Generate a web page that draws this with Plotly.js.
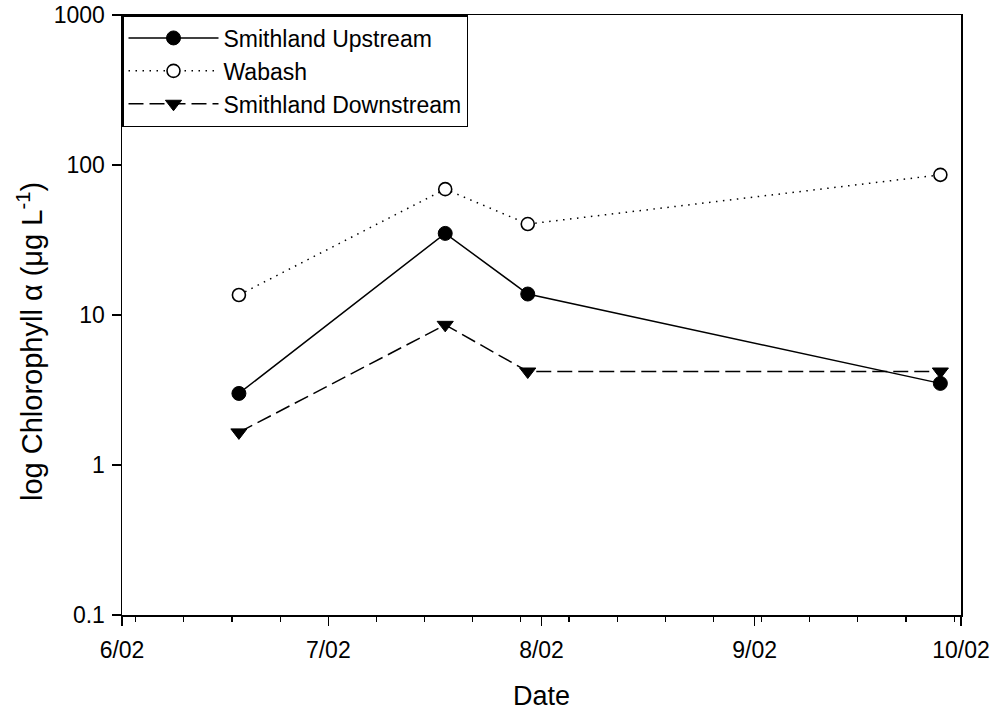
<!DOCTYPE html>
<html><head><meta charset="utf-8">
<script src="https://cdn.plot.ly/plotly-3.0.1.min.js"></script>
<style>html,body{margin:0;padding:0;background:#fff}</style>
</head><body>
<div id="chart" style="width:990px;height:715px"></div>
<script>
// ---- data ----
const dates = ['2002-06-18', '2002-07-18', '2002-07-30', '2002-09-28'];
const smithlandUpstream = [3.0, 35, 13.8, 3.5];
const wabash = [13.6, 69, 40.4, 86];
const smithlandDownstream = [1.65, 8.6, 4.2, 4.2];
const seriesNames = ['Smithland Upstream', 'Wabash', 'Smithland Downstream'];
const yTickVals = [0.1, 1, 10, 100, 1000];
const yTickText = ['0.1', '1', '10', '100', '1000'];
const xRange = ['2002-06-01', '2002-10-01'];
const xTitle = 'Date';
const yTitle = 'log Chlorophyll α (μg L<sup>-1</sup>)';

const FONT = 'Liberation Sans, Arial, Helvetica, sans-serif';

const traces = [
  {
    x: dates, y: smithlandUpstream, name: seriesNames[0],
    type: 'scatter', mode: 'lines+markers',
    line: {color: '#000', width: 1.5, dash: 'solid'},
    marker: {symbol: 'circle', size: 14, color: '#000', line: {color: '#000', width: 1}}
  },
  {
    x: dates, y: wabash, name: seriesNames[1],
    type: 'scatter', mode: 'lines+markers',
    line: {color: '#000', width: 1.5, dash: '1.5px,5.5px'},
    marker: {symbol: 'circle', size: 13, color: '#fff', line: {color: '#000', width: 1.6}}
  },
  {
    x: dates, y: smithlandDownstream, name: seriesNames[2],
    type: 'scatter', mode: 'lines+markers',
    line: {color: '#000', width: 1.5, dash: '15px,6px'},
    marker: {symbol: 'triangle-down', size: 14, color: '#000', line: {color: '#000', width: 1}}
  }
];

const layout = {
  width: 990, height: 715,
  margin: {l: 122, r: 29, t: 15, b: 100, pad: 0},
  paper_bgcolor: '#fff', plot_bgcolor: '#fff',
  font: {family: FONT, size: 23, color: '#000'},
  showlegend: true,
  legend: {
    x: 0, y: 1, xanchor: 'left', yanchor: 'top',
    bgcolor: '#fff', bordercolor: '#000', borderwidth: 1.5,
    font: {family: FONT, size: 23, color: '#000'},
    itemwidth: 90, tracegroupgap: 0
  },
  xaxis: {
    type: 'date', range: xRange,
    tick0: '2002-06-01', dtick: 'M1', tickformat: '%-m/%y',
    ticks: 'outside', ticklen: 9, tickwidth: 1.5, tickcolor: '#000',
    ticklabelstandoff: 5,
    minor: {ticks: 'outside', tick0: '2002-06-03', dtick: 604800000, ticklen: 5, tickwidth: 1.2, tickcolor: '#000', showgrid: false},
    showline: true, linecolor: '#000', linewidth: 1.5, mirror: true,
    showgrid: false, zeroline: false,
    tickfont: {family: FONT, size: 23, color: '#000'},
    title: {text: xTitle, font: {family: FONT, size: 27, color: '#000'}, standoff: 24}
  },
  yaxis: {
    type: 'log', range: [-1, 3],
    tickvals: yTickVals, ticktext: yTickText,
    ticks: 'outside', ticklen: 9, tickwidth: 1.5, tickcolor: '#000',
    ticklabelstandoff: 2,
    showline: true, linecolor: '#000', linewidth: 1.5, mirror: true,
    showgrid: false, zeroline: false,
    tickfont: {family: FONT, size: 23, color: '#000'}
  },
  annotations: [{
    text: yTitle, textangle: -90,
    xref: 'paper', yref: 'paper',
    x: (30 - 122) / 839, y: (615 - 342) / 600,
    xanchor: 'center', yanchor: 'middle', showarrow: false,
    font: {family: FONT, size: 29, color: '#000'}
  }]
};

Plotly.newPlot('chart', traces, layout, {displayModeBar: false, staticPlot: true});
</script>
</body></html>
